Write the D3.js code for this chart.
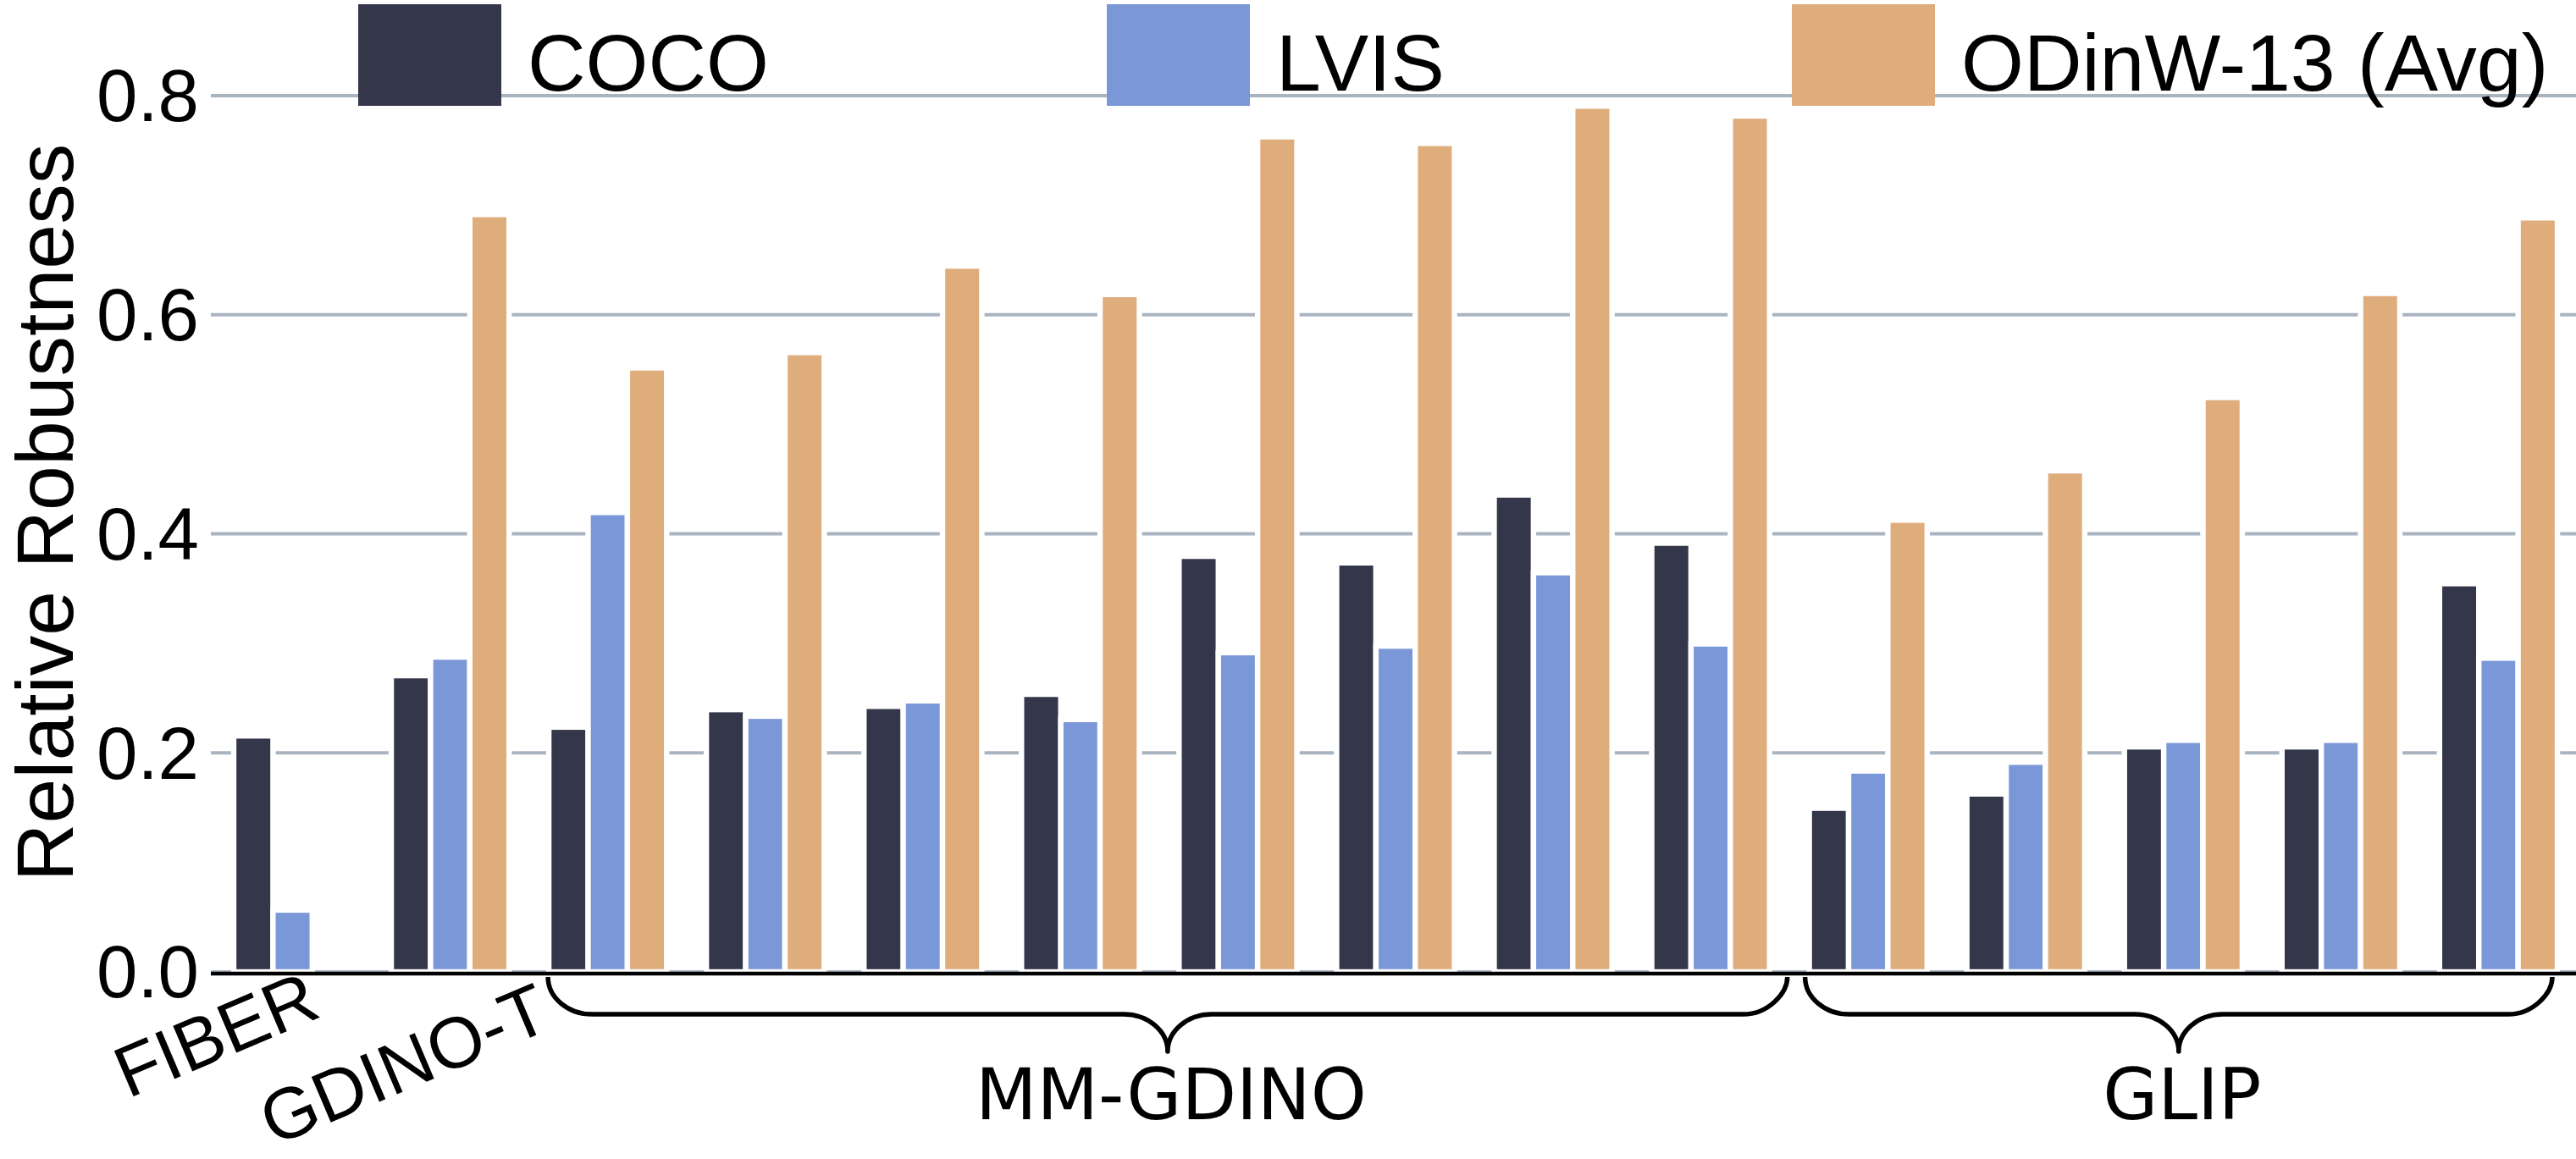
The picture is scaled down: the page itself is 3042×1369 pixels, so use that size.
<!DOCTYPE html>
<html>
<head>
<meta charset="utf-8">
<script src="https://cdn.jsdelivr.net/npm/d3@7"></script>
<style>
  body { margin: 0; background: #fff; }
  svg { display: block; }
</style>
</head>
<body>
<svg id="chart" width="3042" height="1369"></svg>
<script>
// groups along the x axis (one bar triple each)
const categories = [
  "FIBER", "GDINO-T",
  "MM-GDINO 1", "MM-GDINO 2", "MM-GDINO 3", "MM-GDINO 4",
  "MM-GDINO 5", "MM-GDINO 6", "MM-GDINO 7", "MM-GDINO 8",
  "GLIP 1", "GLIP 2", "GLIP 3", "GLIP 4", "GLIP 5"
];
const series = ["COCO", "LVIS", "ODinW-13 (Avg)"];
const colors = ["#343649", "#7a97d8", "#dfac7c"];

const coco  = [0.213, 0.268, 0.221, 0.237, 0.240, 0.251, 0.377, 0.371, 0.433, 0.389, 0.147, 0.160, 0.203, 0.203, 0.352];
const lvis  = [0.054, 0.285, 0.417, 0.231, 0.245, 0.228, 0.289, 0.295, 0.362, 0.297, 0.181, 0.189, 0.209, 0.209, 0.284];
const odinw = [null,  0.689, 0.549, 0.563, 0.642, 0.616, 0.760, 0.754, 0.788, 0.779, 0.410, 0.455, 0.522, 0.617, 0.686];

const yTicks = [0.0, 0.2, 0.4, 0.6, 0.8];
const tickLabels = [{ cat: "FIBER", text: "FIBER" }, { cat: "GDINO-T", text: "GDINO-T" }];
const families = [
  { name: "MM-GDINO", first: "MM-GDINO 1", last: "MM-GDINO 8" },
  { name: "GLIP", first: "GLIP 1", last: "GLIP 5" }
];

const svg = d3.select("#chart");

const plot = { left: 249, right: 3047, top: 113, bottom: 1148 };
const barEdge = 6.4; // white outline round every bar

const x0 = d3.scaleBand().domain(categories)
  .range([plot.left, plot.right])
  .paddingInner(0.252).paddingOuter(0.145);
const x1 = d3.scaleBand().domain(series).range([0, x0.bandwidth()]).padding(0);
const y = d3.scaleLinear().domain([0, 0.8]).range([plot.bottom, plot.top]);

const values = [coco, lvis, odinw];
const rows = categories.map((c, i) => ({ cat: c, vals: series.map((s, j) => ({ s, j, v: values[j][i] })) }));

// grid
svg.append("g").selectAll("line").data(yTicks).join("line")
  .attr("x1", plot.left).attr("x2", plot.right + 20)
  .attr("y1", d => y(d)).attr("y2", d => y(d))
  .attr("stroke", "#a9b4c1").attr("stroke-width", 4);

// y tick labels
svg.append("g").selectAll("text").data(yTicks).join("text")
  .attr("x", 235).attr("y", d => y(d)).attr("dy", "0.35em")
  .attr("text-anchor", "end")
  .style("font-family", "'Liberation Sans', Arial, sans-serif")
  .style("font-size", "87px")
  .text(d => d3.format(".1f")(d));

// y axis title
svg.append("text")
  .attr("transform", `translate(86,${(155 + 1056) / 2}) rotate(-90)`)
  .attr("text-anchor", "middle")
  .style("font-family", "'Liberation Sans', Arial, sans-serif")
  .style("font-size", "95px")
  .text("Relative Robustness");

// bars
const gGroups = svg.append("g").selectAll("g").data(rows).join("g")
  .attr("transform", d => `translate(${x0(d.cat)},0)`);

gGroups.selectAll("rect").data(d => d.vals.filter(e => e.v != null)).join("rect")
  .attr("x", d => x1(d.s))
  .attr("width", x1.bandwidth())
  .attr("y", d => y(d.v) - barEdge / 2)
  .attr("height", d => y(0) - y(d.v) + barEdge / 2)
  .attr("fill", d => colors[d.j])
  .attr("stroke", "#fff")
  .attr("stroke-width", barEdge);

// x axis line
svg.append("line")
  .attr("x1", plot.left).attr("x2", plot.right + 20)
  .attr("y1", y(0) + 2).attr("y2", y(0) + 2)
  .attr("stroke", "#000").attr("stroke-width", 4.5);

// rotated tick labels for the single models
const tickNudge = { "FIBER": [36, 52], "GDINO-T": [122, 66] };
svg.append("g").selectAll("text").data(tickLabels).join("text")
  .attr("transform", d => {
    const cx = x0(d.cat) + x0.bandwidth() / 2 + tickNudge[d.cat][0];
    const cy = y(0) + tickNudge[d.cat][1];
    return `translate(${cx},${cy}) rotate(-23)`;
  })
  .attr("text-anchor", "end")
  .style("font-family", "'Liberation Sans', Arial, sans-serif")
  .style("font-size", "85px")
  .text(d => d.text);

// curly braces under the model families
const braceNudge = { "MM-GDINO": [-1, 21], "GLIP": [-5, -6] };
function bracePath(xa, xb, y0, ym, yt) {
  const xc = (xa + xb) / 2, r = 52, k = 0.55;
  return `M${xa},${y0}` +
    `C${xa},${y0 + (ym - y0) * k} ${xa + r - r * k},${ym} ${xa + r},${ym}` +
    `L${xc - r},${ym}` +
    `C${xc - r + r * k},${ym} ${xc},${yt - (yt - ym) * k} ${xc},${yt}` +
    `C${xc},${yt - (yt - ym) * k} ${xc + r - r * k},${ym} ${xc + r},${ym}` +
    `L${xb - r},${ym}` +
    `C${xb - r + r * k},${ym} ${xb},${ym - (ym - y0) * k} ${xb},${y0}`;
}

const gFam = svg.append("g").selectAll("g").data(families).join("g");
gFam.append("path")
  .attr("d", d => {
    const xa = x0(d.first) + braceNudge[d.name][0];
    const xb = x0(d.last) + x0.bandwidth() + braceNudge[d.name][1];
    return bracePath(xa, xb, y(0) + 6, y(0) + 50, y(0) + 94);
  })
  .attr("fill", "none")
  .attr("stroke", "#000")
  .attr("stroke-width", 5.5)
  .attr("stroke-linejoin", "round");

gFam.append("text")
  .attr("x", d => {
    const xa = x0(d.first) + braceNudge[d.name][0];
    const xb = x0(d.last) + x0.bandwidth() + braceNudge[d.name][1];
    return (xa + xb) / 2 + 4;
  })
  .attr("y", y(0) + 174)
  .attr("text-anchor", "middle")
  .style("font-family", "'DejaVu Sans', sans-serif")
  .style("font-size", "84px")
  .text(d => d.name);

// legend
const legendLeft = [423, 1307, 2116];
const legend = svg.append("g").selectAll("g").data(series).join("g")
  .attr("transform", (d, i) => `translate(${legendLeft[i]},0)`);
legend.append("rect")
  .attr("x", 0).attr("y", 5)
  .attr("width", 169).attr("height", 120)
  .attr("fill", (d, i) => colors[i]);
legend.append("text")
  .attr("x", 200).attr("y", 107)
  .style("font-family", "'Liberation Sans', Arial, sans-serif")
  .style("font-size", "95px")
  .text(d => d);
</script>
</body>
</html>
